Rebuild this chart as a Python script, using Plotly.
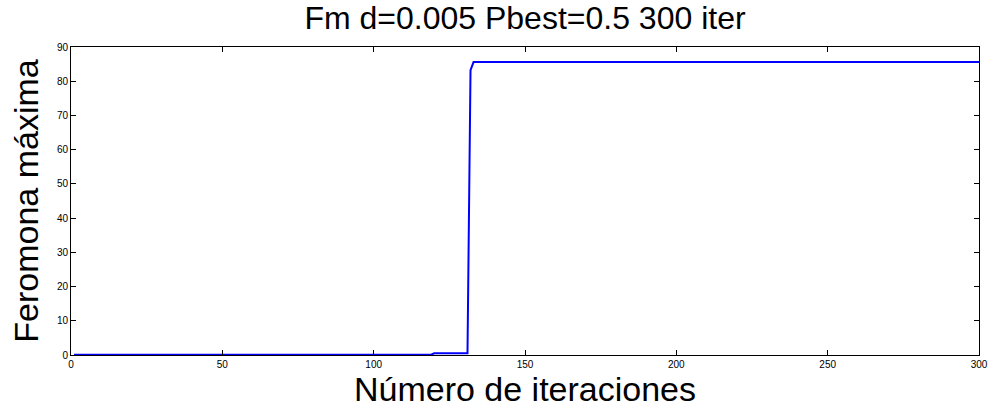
import plotly.graph_objects as go

# Breakpoints of the max-pheromone curve (iteration, value)
iterations = [1, 119, 120, 131, 132, 133, 300]
feromona = [0.1, 0.1, 0.5, 0.5, 83.2, 85.6, 85.6]

x_ticks = [0, 50, 100, 150, 200, 250, 300]
y_ticks = [0, 10, 20, 30, 40, 50, 60, 70, 80, 90]

FONT = "Liberation Sans, Arial"

fig = go.Figure()
fig.add_trace(go.Scatter(x=iterations, y=feromona, mode="lines",
                         line=dict(color="#0000ff", width=2), showlegend=False))

axis_common = dict(showline=True, linecolor="black", linewidth=1, mirror="ticks",
                   ticks="inside", ticklen=5, tickcolor="black", showgrid=False,
                   zeroline=False, tickfont=dict(family=FONT, size=10, color="black"))

fig.update_layout(
    width=1000, height=411,
    margin=dict(l=71, r=15, t=47, b=56),
    paper_bgcolor="white", plot_bgcolor="white",
    title=dict(text="Fm d=0.005 Pbest=0.5 300 iter", x=0.525, xanchor="center",
               y=0.985, yanchor="top",
               font=dict(family=FONT, size=32, color="black")),
    xaxis=dict(range=[0, 300], tickvals=x_ticks,
               title=dict(text="Número de iteraciones", standoff=5,
                          font=dict(family=FONT, size=34, color="black")),
               **axis_common),
    yaxis=dict(range=[0, 90], tickvals=y_ticks,
               title=dict(text="Feromona máxima", standoff=7,
                          font=dict(family=FONT, size=34, color="black")),
               **axis_common),
)

fig.write_html("out.html")
